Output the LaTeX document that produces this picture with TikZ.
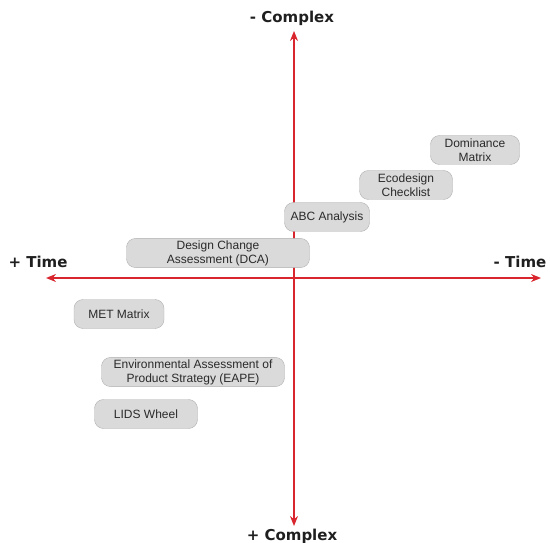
\documentclass[tikz,border=0pt]{standalone}
\usepackage{fontspec}
\setmainfont{Liberation Sans}
\newfontfamily\axisfont{DejaVu Sans}
\usetikzlibrary{arrows.meta}
\definecolor{axisred}{HTML}{D9252E}
\definecolor{boxfill}{HTML}{DADADA}
\definecolor{boxline}{HTML}{B0B0B0}
\definecolor{boxink}{HTML}{2A2A2A}
\tikzset{
  tool/.style={draw=boxline, fill=boxfill, rounded corners=9pt, align=center, text=boxink,
    font=\fontsize{12}{14}\selectfont, minimum height=29pt, inner sep=2pt},
  axlab/.style={font=\axisfont\bfseries\fontsize{15}{17}\selectfont, text=black!88},
  axarr/.style={-{Stealth[length=10pt,width=8pt]}, line width=1.3pt, color=axisred},
}
\begin{document}
\begin{tikzpicture}[x=1pt,y=-1pt]
  \useasboundingbox (0,0) rectangle (550,543);
  % axes
  \coordinate (o) at (294,278);
  \coordinate (top) at (294,31);
  \coordinate (bot) at (294,526);
  \coordinate (lft) at (46,278);
  \coordinate (rgt) at (541,278);
  \draw[axarr] (o) -- (top);
  \draw[axarr] (o) -- (bot);
  \draw[axarr] (o) -- (lft);
  \draw[axarr] (o) -- (rgt);
  \node[axlab] (lessc) at (292,18) {- Complex};
  \node[axlab] (morec) at (292,536) {+ Complex};
  \node[axlab] (moret) at (38,262) {+ Time};
  \node[axlab] (lesst) at (520,262) {- Time};
  % tools
  \node[tool, minimum width=89pt] (dom) at (475,150) {Dominance\\Matrix};
  \node[tool, minimum width=93pt] (eco) at (406,185) {Ecodesign\\Checklist};
  \node[tool, minimum width=85pt] (abc) at (327,217) {ABC Analysis};
  \node[tool, minimum width=183pt] (dca) at (218,253) {Design Change\\Assessment (DCA)};
  \node[tool, minimum width=90pt] (met) at (119,314) {MET Matrix};
  \node[tool, minimum width=183pt] (eape) at (193,372) {Environmental Assessment of\\Product Strategy (EAPE)};
  \node[tool, minimum width=103pt] (lids) at (146,414) {LIDS Wheel};
\end{tikzpicture}
\end{document}
